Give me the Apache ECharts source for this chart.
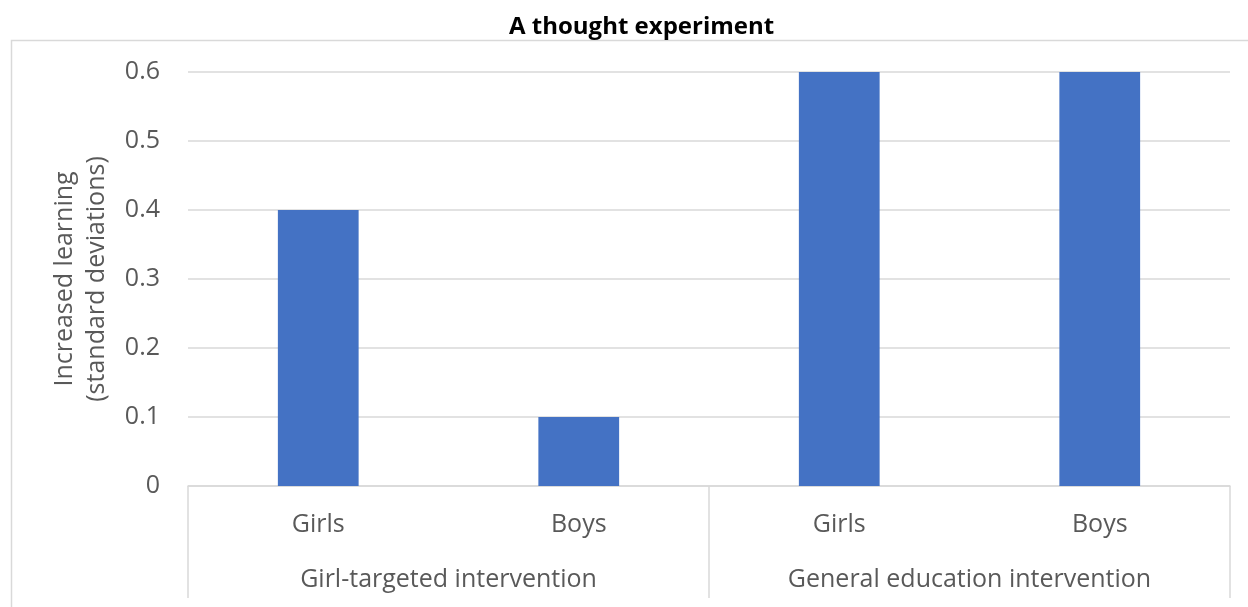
<!DOCTYPE html>
<html>
<head>
<meta charset="utf-8">
<style>
  html, body { margin: 0; padding: 0; background: #ffffff; }
  #chart { width: 1248px; height: 607px; }
</style>
<script src="https://cdn.jsdelivr.net/npm/echarts@6/dist/echarts.min.js"></script>
</head>
<body>
<div id="chart"></div>
<script>
// Learning gains by group and type of intervention
const groupLabels = ['Girl-targeted intervention', 'General education intervention'];
const childLabels = ['Girls', 'Boys', 'Girls', 'Boys'];
const learningGain = [0.4, 0.1, 0.6, 0.6];
const yTicks = { min: 0, max: 0.6, step: 0.1 };

const textColor = '#595959';
const lineColor = '#d9d9d9';
const fontFamily = '"Open Sans", "Noto Sans", sans-serif';
const labelSize = 25;

const chart = echarts.init(document.getElementById('chart'));
chart.setOption({
  backgroundColor: '#ffffff',
  animation: false,
  title: {
    text: 'A thought experiment',
    left: 504,
    top: 10,
    textStyle: { fontFamily: fontFamily, fontSize: 24, fontWeight: 'bold', color: '#000000' }
  },
  graphic: [{
    type: 'rect',
    shape: { x: 11.5, y: 40.5, width: 1300, height: 700 },
    style: { fill: 'none', stroke: lineColor, lineWidth: 1.5 },
    silent: true,
    z: -1
  }],
  grid: { left: 188, right: 18, top: 72, bottom: 121 },
  xAxis: [{
    type: 'category',
    data: childLabels,
    position: 'bottom',
    axisLine: { show: true, lineStyle: { color: lineColor, width: 1.5 } },
    axisTick: { show: false },
    axisLabel: { color: textColor, fontFamily: fontFamily, fontSize: labelSize, margin: 26 }
  }, {
    type: 'category',
    data: groupLabels,
    position: 'bottom',
    axisLine: { show: false },
    axisTick: { show: true, length: 112, lineStyle: { color: lineColor, width: 1.5 } },
    axisLabel: { color: textColor, fontFamily: fontFamily, fontSize: labelSize, margin: 81 }
  }],
  yAxis: {
    type: 'value',
    min: yTicks.min,
    max: yTicks.max,
    interval: yTicks.step,
    name: 'Increased learning\n(standard deviations)',
    nameLocation: 'middle',
    nameRotate: 90,
    nameGap: 75,
    nameTextStyle: { color: textColor, fontFamily: fontFamily, fontSize: labelSize, lineHeight: 32 },
    axisLine: { show: false },
    axisTick: { show: false },
    axisLabel: { color: textColor, fontFamily: fontFamily, fontSize: labelSize, margin: 28 },
    splitLine: { lineStyle: { color: lineColor, width: 1.5 } }
  },
  series: [{
    type: 'bar',
    xAxisIndex: 0,
    data: learningGain,
    barWidth: '31%',
    itemStyle: { color: '#4472c4' }
  }]
});
</script>
</body>
</html>
